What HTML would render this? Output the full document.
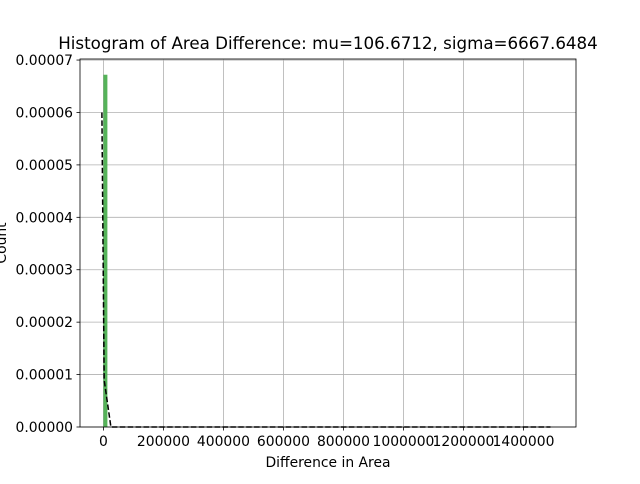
<!DOCTYPE html>
<html><head><meta charset="utf-8"><style>
body{margin:0;background:#fff;font-family:"DejaVu Sans","Liberation Sans",sans-serif}
svg text{font-family:"DejaVu Sans","Liberation Sans",sans-serif;font-size:13.9px;fill:#000}
</style></head><body>
<svg id="chart" width="640" height="480" viewBox="0 0 640 480">
<rect x="0" y="0" width="640" height="480" fill="#fff"/>
<g id="grid"></g><g id="marks"></g><g id="axes"></g>
<text x="328" y="49" text-anchor="middle" style="font-size:16.7px">Histogram of Area Difference: mu=106.6712, sigma=6667.6484</text>
<text x="328" y="467" text-anchor="middle">Difference in Area</text>
<text transform="translate(6,243) rotate(-90)" text-anchor="middle">Count</text>
</svg>
<script>
const xTicks=[0,200000,400000,600000,800000,1000000,1200000,1400000];
const yTicks=[0,0.00001,0.00002,0.00003,0.00004,0.00005,0.00006,0.00007];
const yTickLabels=["0.00000","0.00001","0.00002","0.00003","0.00004","0.00005","0.00006","0.00007"];
const binEdges=[0,13300];
const binHeights=[0.0000672];
const pdfX=[-5000,2500,25000,1490000];
const pdfY=[0.00006,0.000009,0,0];
const L=80,R=576,T=59,B=427;
const xMin=-78000,xMax=1575000,yMin=0,yMax=0.0000702;
const sx=v=>L+(v-xMin)/(xMax-xMin)*(R-L);
const sy=v=>B-(v-yMin)/(yMax-yMin)*(B-T);
const NS="http://www.w3.org/2000/svg";
function mk(t,a,p){const e=document.createElementNS(NS,t);for(const k in a)e.setAttribute(k,a[k]);p.appendChild(e);return e;}
const grid=document.getElementById('grid'),marks=document.getElementById('marks'),axes=document.getElementById('axes');
xTicks.forEach(v=>{const x=sx(v);
const g=mk('line',{x1:x,x2:x,y1:T,y2:B,stroke:'#b0b0b0','stroke-width':0.8},grid);


mk('line',{x1:x,x2:x,y1:B,y2:B+3.5,stroke:'#000','stroke-width':0.8},axes);
const t=mk('text',{x:x,y:B+19,'text-anchor':'middle'},axes);t.textContent=String(v);

});
yTicks.forEach((v,i)=>{const y=sy(v);
const g=mk('line',{x1:L,x2:R,y1:y,y2:y,stroke:'#b0b0b0','stroke-width':0.8},grid);


mk('line',{x1:L-3.5,x2:L,y1:y,y2:y,stroke:'#000','stroke-width':0.8},axes);
const t=mk('text',{x:L-7,y:y+5,'text-anchor':'end'},axes);t.textContent=yTickLabels[i];

});
binHeights.forEach((h,i)=>{const x0=sx(binEdges[i]),x1=sx(binEdges[i+1]);
const r=mk('rect',{x:x0,y:sy(h),width:x1-x0,height:B-sy(h),fill:'#4caf50','fill-opacity':0.95},marks);

});
const p=mk('polyline',{points:pdfX.map((x,i)=>sx(x)+','+sy(pdfY[i])).join(' '),fill:'none',stroke:'#000','stroke-width':1.5,'stroke-dasharray':'5.5,2.4'},marks);


const f=mk('rect',{x:L,y:T,width:R-L,height:B-T,fill:'none',stroke:'#000','stroke-width':0.8},axes);


</script>
</body></html>
